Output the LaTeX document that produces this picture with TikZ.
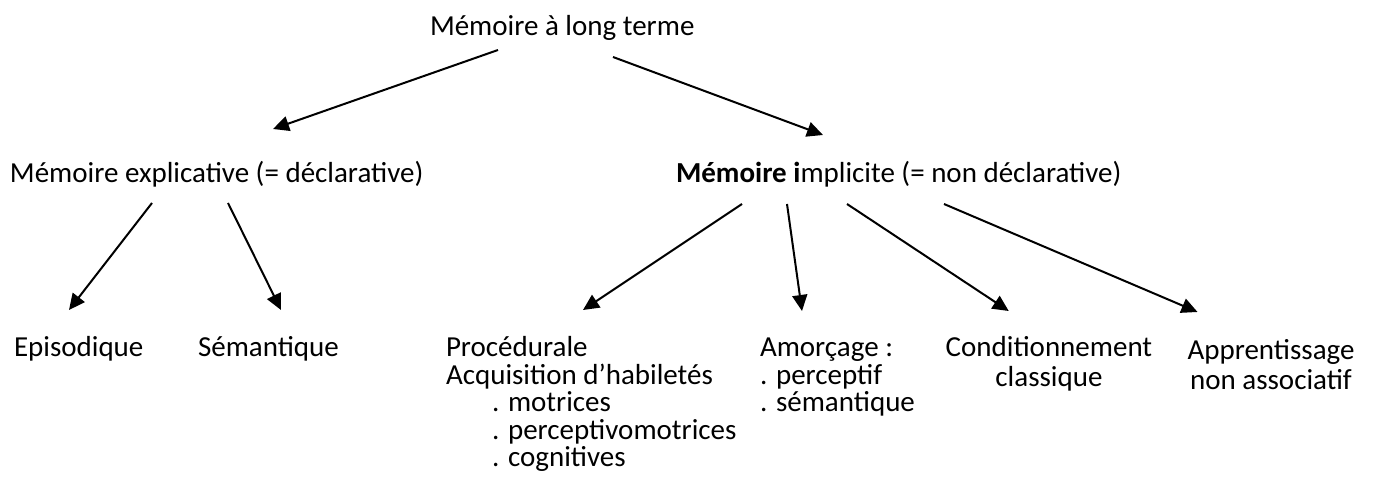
\documentclass[tikz,border=0pt]{standalone}
\usepackage{fontspec}
\setmainfont{Carlito}
\usetikzlibrary{arrows.meta,calc,positioning}

\begin{document}
\begin{tikzpicture}[x=0.5pt,y=-0.5pt,
 every node/.style={outer sep=0pt,inner sep=0pt,anchor=base west,
  font=\fontsize{14.5pt}{13.75pt}\selectfont},
 centre/.style={align=center,anchor=base,font=\fontsize{14.5pt}{15pt}\selectfont},
 arr/.style={line width=1pt,-{Triangle[length=8pt,width=7.5pt]}}]
\useasboundingbox (0,0) rectangle (1373,501);

% niveaux
\node (mlt) at (430,36) {Mémoire à long terme};
\node (expl) at (10,183) {Mémoire explicative (= déclarative)};
\node (impl) at (676,183) {\textbf{Mémoire i}mplicite (= non déclarative)};

% feuilles (base = derniere ligne)
\node (epi) at (14,357) {Episodique};
\node (sem) at (198,357) {Sémantique};
\node[align=left] (proc) at (446,467) {Procédurale\\Acquisition d’habiletés\\
 \hspace*{23pt}. motrices\\\hspace*{23pt}. perceptivomotrices\\\hspace*{23pt}. cognitives};
\node[align=left] (amor) at (760,412) {Amorçage :\\. perceptif\\. sémantique};
\node[centre] (cond) at (1049,387) {Conditionnement\\classique};
\node[centre] (appr) at (1271,390) {Apprentissage\\non associatif};

% fleches
\draw[arr] ($(mlt.base west)+(68,14)$) -- ($(expl.base west)+(263,-54)$);
\draw[arr] ($(mlt.base west)+(183,21)$) -- ($(impl.base west)+(147,-48)$);

\draw[arr] ($(expl.base west)+(142,20)$) -- ($(epi.base west)+(55,-47)$);
\draw[arr] ($(expl.base west)+(218,20)$) -- ($(sem.base west)+(83,-47)$);

\draw[arr] ($(impl.base west)+(66,21)$) -- ($(proc.base west)+(137,-157)$);
\draw[arr] ($(impl.base west)+(111,21)$) -- ($(amor.base west)+(42,-101)$);
\draw[arr] ($(impl.base west)+(171,21)$) -- ($(cond.base west)+(63,-76)$);
\draw[arr] ($(impl.base west)+(268,21)$) -- ($(appr.base west)+(10,-78)$);
\end{tikzpicture}
\end{document}
